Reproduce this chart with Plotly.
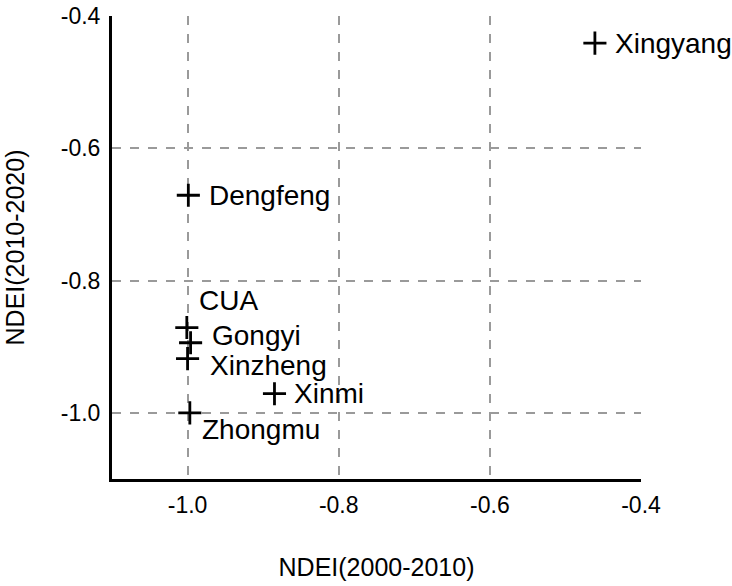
import plotly.graph_objects as go

names = ["Xingyang", "Dengfeng", "CUA", "Gongyi", "Xinzheng", "Xinmi", "Zhongmu"]
ndei_2000_2010 = [-0.461, -0.999, -1.001, -0.996, -1.0, -0.885, -0.997]
ndei_2010_2020 = [-0.441, -0.671, -0.871, -0.894, -0.918, -0.971, -1.000]

# label offsets in pixels (style, not data)
label_dx = [18, 19, 10, 19, 20, 18, 10]
label_dy = [0, 0, 27, 7, -7, 0, -17]

tick_vals = [-1.0, -0.8, -0.6, -0.4]
tick_text = ["-1.0", "-0.8", "-0.6", "-0.4"]

FONT = "Liberation Sans, Arial, sans-serif"

fig = go.Figure()
fig.add_trace(go.Scatter(
    x=ndei_2000_2010, y=ndei_2010_2020, mode="markers",
    marker=dict(symbol="cross-thin", size=16.5, color="black",
                line=dict(color="black", width=2.8)),
    showlegend=False, hoverinfo="skip", cliponaxis=False,
))

for n, x, y, dx, dy in zip(names, ndei_2000_2010, ndei_2010_2020, label_dx, label_dy):
    fig.add_annotation(x=x, y=y, text=n, showarrow=False, xanchor="left",
                       yanchor="middle", xshift=dx, yshift=dy,
                       font=dict(family=FONT, size=28, color="black"))

axis_common = dict(
    showline=True, linecolor="black", linewidth=3,
    showgrid=True, gridcolor="#9a9a9a", griddash="9px,9px", gridwidth=1.5,
    zeroline=False, ticks="outside", ticklen=0, automargin=False,
    tickfont=dict(family=FONT, size=23, color="black"),
    tickvals=tick_vals, ticktext=tick_text,
)

fig.update_xaxes(range=[-1.1, -0.4], ticklabelstandoff=3,
                 title=dict(text="NDEI(2000-2010)", standoff=42,
                            font=dict(family=FONT, size=25, color="black")),
                 **axis_common)
fig.update_yaxes(range=[-1.1, -0.4], ticklabelstandoff=4,
                 title=dict(text="NDEI(2010-2020)", standoff=30,
                            font=dict(family=FONT, size=25, color="black")),
                 **axis_common)

fig.update_layout(
    width=732, height=586,
    margin=dict(l=112, r=91, t=16, b=107),
    plot_bgcolor="white", paper_bgcolor="white",
)

fig.write_html("out.html")
